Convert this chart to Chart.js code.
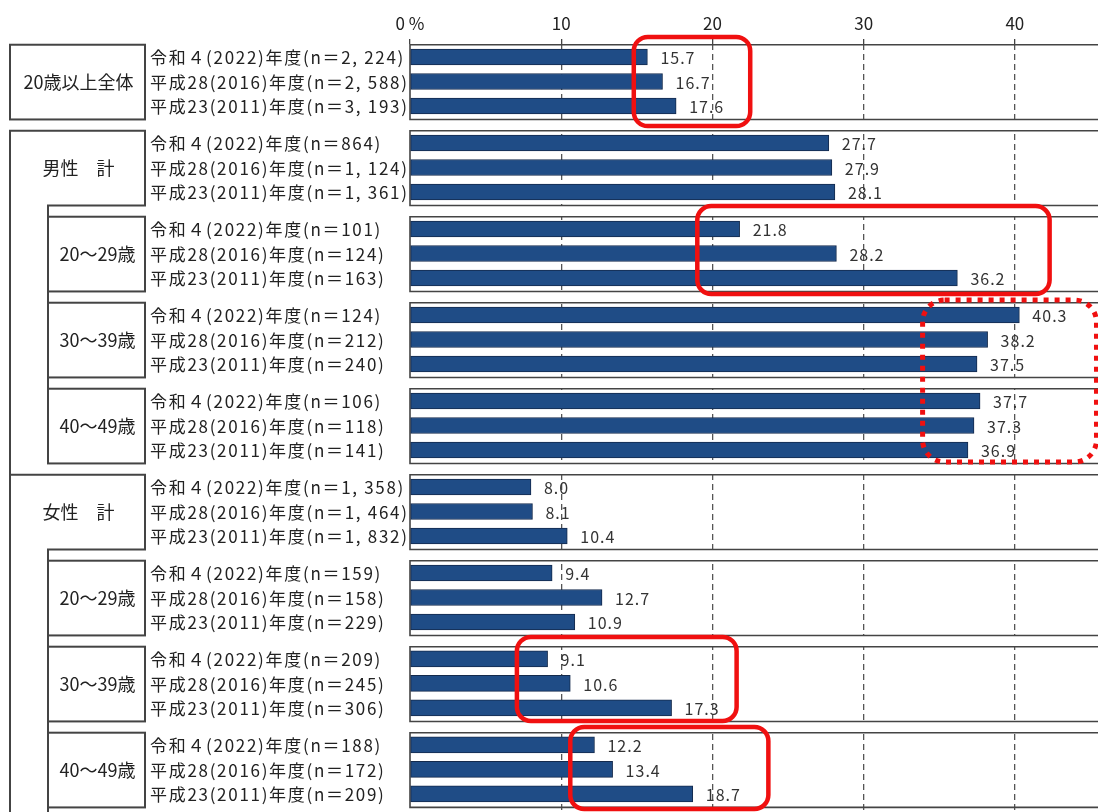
<!DOCTYPE html>
<html lang="ja">
<head>
<meta charset="utf-8">
<title>年代別 割合の推移</title>
<script src="https://cdn.jsdelivr.net/npm/chart.js@4/dist/chart.umd.min.js"></script>
<style>
  html, body { margin: 0; padding: 0; background: #fff; }
  #wrap { width: 1098px; height: 812px; }
</style>
</head>
<body>
<div id="wrap"><canvas id="chart" width="1098" height="812"></canvas></div>
<script>
// ---- data ----
const groupNames = ["20歳以上全体", "男性　計", "20～29歳", "30～39歳", "40～49歳",
                    "女性　計", "20～29歳", "30～39歳", "40～49歳"];
const groupIsSub = [false, false, true, true, true, false, true, true, true];
const yearNames = ["令和４(2022)年度", "平成28(2016)年度", "平成23(2011)年度"];

const n2022 = [2224, 864, 101, 124, 106, 1358, 159, 209, 188];
const n2016 = [2588, 1124, 124, 212, 118, 1464, 158, 245, 172];
const n2011 = [3193, 1361, 163, 240, 141, 1832, 229, 306, 209];

const pct2022 = [15.7, 27.7, 21.8, 40.3, 37.7, 8.0, 9.4, 9.1, 12.2];
const pct2016 = [16.7, 27.9, 28.2, 38.2, 37.3, 8.1, 12.7, 10.6, 13.4];
const pct2011 = [17.6, 28.1, 36.2, 37.5, 36.9, 10.4, 10.9, 17.3, 18.7];

const xTicks = [0, 10, 20, 30, 40];

// red highlight frames (value units on x, group/row on y)
const highlights = [
  { x0: 14.8, x1: 22.5, g0: 0, r0: -0.82, g1: 0, r1: 2.82 },
  { x0: 19.0, x1: 42.3, g0: 2, r0: -0.94, g1: 2, r1: 2.65 },
  { x0: 33.9, x1: 45.4, g0: 3, r0: -0.61, g1: 4, r1: 2.49, dotted: true },
  { x0: 7.07, x1: 21.6, g0: 7, r0: -0.9, g1: 7, r1: 2.53 },
  { x0: 10.6, x1: 23.7, g0: 8, r0: -0.73, g1: 8, r1: 2.61 }
];

// ---- layout ----
const GROUP_STEP = 3.51;
const Y_MIN = -0.53;
const Y_MAX = Y_MIN + 768 / 24.5;
const FONT = '"Noto Sans CJK JP", "Noto Sans", sans-serif';
const LINE = "#444";

const rowPos = (g, i) => g * GROUP_STEP + i;
const pctByYear = [pct2022, pct2016, pct2011];
const nByYear = [n2022, n2016, n2011];

const points = [];
groupNames.forEach((_, g) => {
  for (let i = 0; i < 3; i++) points.push({ x: pctByYear[i][g], y: rowPos(g, i) });
});

function fmtN(n) {
  return n.toLocaleString("en-US").replace(",", ", ");
}

/* =========================
   FRAMES, LABELS, HIGHLIGHTS
========================== */
const framePlugin = {
  id: "frames",
  beforeDatasetsDraw(chart) {
    const { ctx, chartArea: a, scales: { y } } = chart;
    ctx.save();
    // white gaps between group frames
    ctx.fillStyle = "#fff";
    for (let g = 0; g < groupNames.length - 1; g++) {
      const b = y.getPixelForValue(rowPos(g, 2) + 0.55);
      const t = y.getPixelForValue(rowPos(g + 1, 0) - 0.5);
      ctx.fillRect(a.left - 1, b, a.right - a.left + 2, t - b);
    }
    // group frames
    ctx.strokeStyle = LINE;
    ctx.lineWidth = 1.6;
    groupNames.forEach((_, g) => {
      const t = y.getPixelForValue(rowPos(g, 0) - 0.5);
      const b = y.getPixelForValue(rowPos(g, 2) + 0.55);
      ctx.beginPath();
      ctx.moveTo(a.right, t); ctx.lineTo(a.left, t);
      ctx.lineTo(a.left, b); ctx.lineTo(a.right, b);
      ctx.stroke();
    });
    ctx.restore();
  },
  afterDraw(chart) {
    const { ctx, scales: { x, y } } = chart;
    const meta = chart.getDatasetMeta(0);
    ctx.save();

    // value labels
    ctx.font = "16px " + FONT;
    ctx.fillStyle = "#333";
    ctx.textAlign = "left";
    ctx.textBaseline = "middle";
    ctx.letterSpacing = "1px";
    meta.data.forEach((bar, k) => {
      ctx.fillText(points[k].x.toFixed(1), bar.x + 13, bar.y + 1);
    });

    // row labels
    ctx.font = "17px " + FONT;
    ctx.letterSpacing = "1.7px";
    ctx.fillStyle = "#222";
    groupNames.forEach((_, g) => {
      for (let i = 0; i < 3; i++) {
        const txt = yearNames[i] + "(n＝" + fmtN(nByYear[i][g]) + ")";
        ctx.fillText(txt, 150, y.getPixelForValue(rowPos(g, i)) + 1);
      }
    });

    // left boxes
    const OUT = 10, IN = 48, R = 145;
    ctx.strokeStyle = LINE;
    ctx.lineWidth = 2;
    const top = g => y.getPixelForValue(rowPos(g, 0) - 0.5);
    const bot = g => y.getPixelForValue(rowPos(g, 2) + 0.55);
    groupNames.forEach((name, g) => {
      const t = top(g), b = bot(g);
      if (g === 0) {
        ctx.strokeRect(OUT, t, R - OUT, b - t);
      } else if (!groupIsSub[g]) {
        // parent box: open at the left-bottom, lines run down past the children
        let last = g;
        while (last + 1 < groupNames.length && groupIsSub[last + 1]) last++;
        const more = last + 1 < groupNames.length;
        const end = more ? top(last + 1) : chart.height + 2;
        ctx.beginPath();
        ctx.moveTo(OUT, end); ctx.lineTo(OUT, t); ctx.lineTo(R, t); ctx.lineTo(R, b); ctx.lineTo(IN, b);
        ctx.lineTo(IN, more ? bot(last) : chart.height + 2);
        ctx.stroke();
      } else {
        ctx.strokeRect(IN, t, R - IN, b - t);
      }
    });

    // group labels
    ctx.font = "18px " + FONT;
    ctx.letterSpacing = "0px";
    ctx.textAlign = "center";
    ctx.fillStyle = "#222";
    groupNames.forEach((name, g) => {
      const cx = groupIsSub[g] ? (IN + R) / 2 : (OUT + R) / 2;
      ctx.fillText(name, cx + 1, y.getPixelForValue(rowPos(g, 1)) + 1);
    });

    // red highlights
    ctx.strokeStyle = "#f01010";
    highlights.forEach(h => {
      const x0 = x.getPixelForValue(h.x0), x1 = x.getPixelForValue(h.x1);
      const y0 = y.getPixelForValue(rowPos(h.g0, h.r0));
      const y1 = y.getPixelForValue(rowPos(h.g1, h.r1));
      ctx.beginPath();
      if (h.dotted) {
        ctx.lineWidth = 5;
        ctx.setLineDash([5, 6]);
        ctx.roundRect(x0, y0, x1 - x0, y1 - y0, 22);
      } else {
        ctx.lineWidth = 4.5;
        ctx.setLineDash([]);
        ctx.roundRect(x0, y0, x1 - x0, y1 - y0, 14);
      }
      ctx.stroke();
    });
    ctx.restore();
  }
};

/* =========================
   CHART
========================== */
Chart.defaults.font.family = FONT;
Chart.defaults.color = "#222";

new Chart(document.getElementById("chart"), {
  type: "bar",
  data: {
    datasets: [{
      data: points,
      backgroundColor: "#1f4c86",
      borderColor: "#142a4c",
      borderWidth: 1,
      borderSkipped: false,
      barThickness: 16
    }]
  },
  options: {
    indexAxis: "y",
    responsive: false,
    animation: false,
    devicePixelRatio: 1,
    layout: { padding: { left: 410, right: 0, top: 0, bottom: 0 } },
    plugins: { legend: { display: false }, tooltip: { enabled: false } },
    scales: {
      x: {
        type: "linear",
        position: "top",
        min: 0,
        max: 45.5,
        afterFit: s => { s.height = 44; },
        afterBuildTicks: s => { s.ticks = xTicks.map(v => ({ value: v })); },
        ticks: {
          font: { size: 17 },
          color: "#222",
          padding: 5,
          callback: v => (v === 0 ? "0 %" : v)
        },
        grid: {
          color: c => (c.tick && c.tick.value === 0 ? "rgba(0,0,0,0)" : "#555"),
          lineWidth: 1.3,
          tickLength: 5,
          tickColor: LINE
        },
        border: { display: false, dash: [6, 4] }
      },
      y: {
        type: "linear",
        display: false,
        offset: false,
        reverse: true,
        min: Y_MIN,
        max: Y_MAX
      }
    }
  },
  plugins: [framePlugin]
});
</script>
</body>
</html>
